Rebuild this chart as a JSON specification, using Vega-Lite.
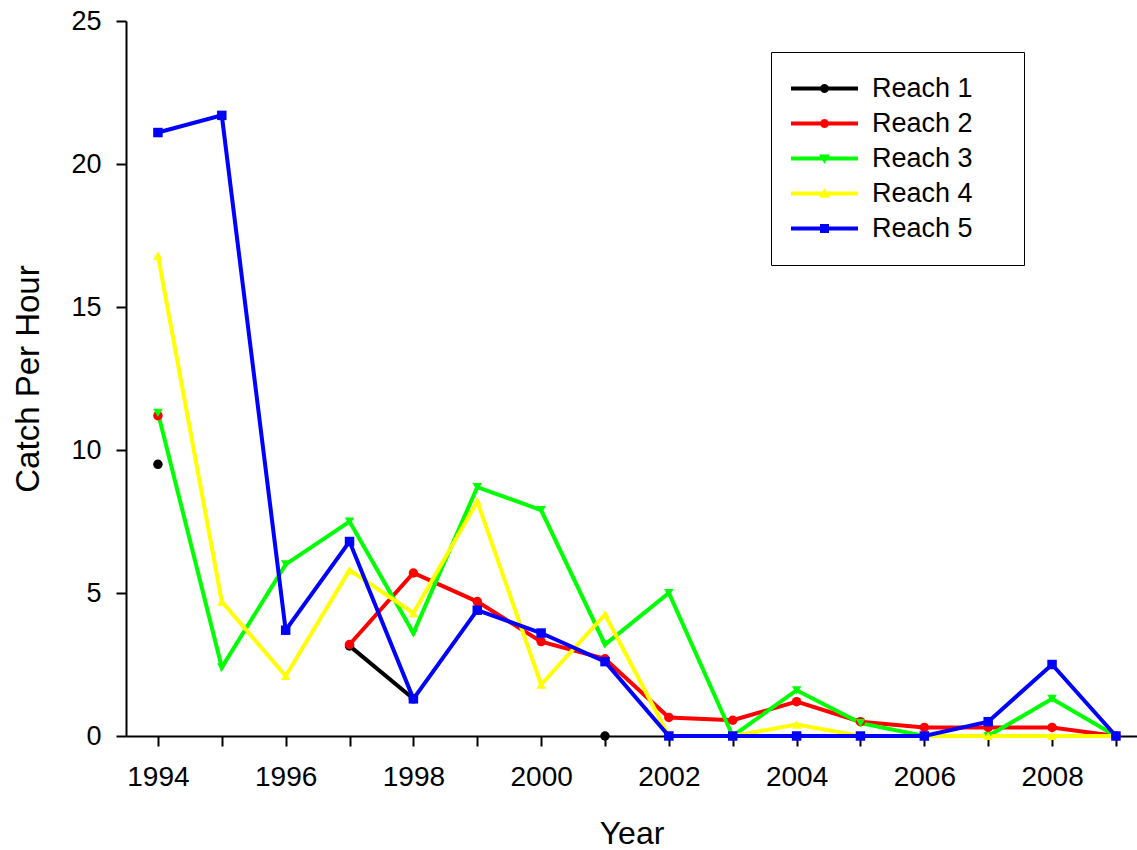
{
  "$schema": "https://vega.github.io/schema/vega-lite/v6.json",
  "width": 1011,
  "height": 715,
  "autosize": "none",
  "padding": {"left": 126, "top": 21, "right": 0, "bottom": 114},
  "background": "white",
  "config": {
    "view": {"stroke": null},
    "font": "Liberation Sans",
    "axis": {
      "domainColor": "black", "domainWidth": 2, "tickColor": "black", "tickWidth": 2, "tickSize": 10,
      "labelColor": "black", "titleColor": "black", "labelFont": "Liberation Sans", "titleFont": "Liberation Sans",
      "labelFontSize": 28, "titleFontSize": 32, "titleFontWeight": "normal", "grid": false
    }
  },
  "data": {"values": [
    {"Year": 1994, "Reach": "Reach 1", "CPH": 9.5},
    {"Year": 1995, "Reach": "Reach 1", "CPH": null},
    {"Year": 1996, "Reach": "Reach 1", "CPH": null},
    {"Year": 1997, "Reach": "Reach 1", "CPH": 3.15},
    {"Year": 1998, "Reach": "Reach 1", "CPH": 1.3},
    {"Year": 1999, "Reach": "Reach 1", "CPH": null},
    {"Year": 2000, "Reach": "Reach 1", "CPH": null},
    {"Year": 2001, "Reach": "Reach 1", "CPH": 0},
    {"Year": 1994, "Reach": "Reach 2", "CPH": 11.2},
    {"Year": 1995, "Reach": "Reach 2", "CPH": null},
    {"Year": 1996, "Reach": "Reach 2", "CPH": null},
    {"Year": 1997, "Reach": "Reach 2", "CPH": 3.2},
    {"Year": 1998, "Reach": "Reach 2", "CPH": 5.7},
    {"Year": 1999, "Reach": "Reach 2", "CPH": 4.7},
    {"Year": 2000, "Reach": "Reach 2", "CPH": 3.3},
    {"Year": 2001, "Reach": "Reach 2", "CPH": 2.7},
    {"Year": 2002, "Reach": "Reach 2", "CPH": 0.65},
    {"Year": 2003, "Reach": "Reach 2", "CPH": 0.55},
    {"Year": 2004, "Reach": "Reach 2", "CPH": 1.2},
    {"Year": 2005, "Reach": "Reach 2", "CPH": 0.5},
    {"Year": 2006, "Reach": "Reach 2", "CPH": 0.3},
    {"Year": 2007, "Reach": "Reach 2", "CPH": 0.3},
    {"Year": 2008, "Reach": "Reach 2", "CPH": 0.3},
    {"Year": 2009, "Reach": "Reach 2", "CPH": 0},
    {"Year": 1994, "Reach": "Reach 3", "CPH": 11.3},
    {"Year": 1995, "Reach": "Reach 3", "CPH": 2.4},
    {"Year": 1996, "Reach": "Reach 3", "CPH": 6.0},
    {"Year": 1997, "Reach": "Reach 3", "CPH": 7.5},
    {"Year": 1998, "Reach": "Reach 3", "CPH": 3.6},
    {"Year": 1999, "Reach": "Reach 3", "CPH": 8.7},
    {"Year": 2000, "Reach": "Reach 3", "CPH": 7.9},
    {"Year": 2001, "Reach": "Reach 3", "CPH": 3.2},
    {"Year": 2002, "Reach": "Reach 3", "CPH": 5.0},
    {"Year": 2003, "Reach": "Reach 3", "CPH": 0},
    {"Year": 2004, "Reach": "Reach 3", "CPH": 1.6},
    {"Year": 2005, "Reach": "Reach 3", "CPH": 0.45},
    {"Year": 2006, "Reach": "Reach 3", "CPH": 0},
    {"Year": 2007, "Reach": "Reach 3", "CPH": 0},
    {"Year": 2008, "Reach": "Reach 3", "CPH": 1.3},
    {"Year": 2009, "Reach": "Reach 3", "CPH": 0},
    {"Year": 1994, "Reach": "Reach 4", "CPH": 16.8},
    {"Year": 1995, "Reach": "Reach 4", "CPH": 4.7},
    {"Year": 1996, "Reach": "Reach 4", "CPH": 2.1},
    {"Year": 1997, "Reach": "Reach 4", "CPH": 5.8},
    {"Year": 1998, "Reach": "Reach 4", "CPH": 4.3},
    {"Year": 1999, "Reach": "Reach 4", "CPH": 8.2},
    {"Year": 2000, "Reach": "Reach 4", "CPH": 1.8},
    {"Year": 2001, "Reach": "Reach 4", "CPH": 4.25},
    {"Year": 2002, "Reach": "Reach 4", "CPH": 0},
    {"Year": 2003, "Reach": "Reach 4", "CPH": 0},
    {"Year": 2004, "Reach": "Reach 4", "CPH": 0.4},
    {"Year": 2005, "Reach": "Reach 4", "CPH": 0},
    {"Year": 2006, "Reach": "Reach 4", "CPH": 0},
    {"Year": 2007, "Reach": "Reach 4", "CPH": 0},
    {"Year": 2008, "Reach": "Reach 4", "CPH": 0},
    {"Year": 2009, "Reach": "Reach 4", "CPH": 0},
    {"Year": 1994, "Reach": "Reach 5", "CPH": 21.1},
    {"Year": 1995, "Reach": "Reach 5", "CPH": 21.7},
    {"Year": 1996, "Reach": "Reach 5", "CPH": 3.7},
    {"Year": 1997, "Reach": "Reach 5", "CPH": 6.8},
    {"Year": 1998, "Reach": "Reach 5", "CPH": 1.3},
    {"Year": 1999, "Reach": "Reach 5", "CPH": 4.4},
    {"Year": 2000, "Reach": "Reach 5", "CPH": 3.6},
    {"Year": 2001, "Reach": "Reach 5", "CPH": 2.6},
    {"Year": 2002, "Reach": "Reach 5", "CPH": 0},
    {"Year": 2003, "Reach": "Reach 5", "CPH": 0},
    {"Year": 2004, "Reach": "Reach 5", "CPH": 0},
    {"Year": 2005, "Reach": "Reach 5", "CPH": 0},
    {"Year": 2006, "Reach": "Reach 5", "CPH": 0},
    {"Year": 2007, "Reach": "Reach 5", "CPH": 0.5},
    {"Year": 2008, "Reach": "Reach 5", "CPH": 2.5},
    {"Year": 2009, "Reach": "Reach 5", "CPH": 0}
  ]},
  "encoding": {
    "x": {
      "field": "Year", "type": "quantitative",
      "scale": {"domain": [1993.5, 2009.33], "nice": false, "zero": false},
      "axis": {
        "title": "Year", "values": [1994,1995,1996,1997,1998,1999,2000,2001,2002,2003,2004,2005,2006,2007,2008,2009],
        "format": "d", "labelExpr": "datum.value % 2 == 0 ? datum.label : ''",
        "labelPadding": 17, "labelFlush": false, "labelOverlap": false,
        "titleY": 107, "titleBaseline": "alphabetic"
      }
    },
    "y": {
      "field": "CPH", "type": "quantitative",
      "scale": {"domain": [0, 25], "nice": false},
      "axis": {
        "title": "Catch Per Hour", "values": [0,5,10,15,20,25], "titleFontSize": 33,
        "labelPadding": 15, "labelFontSize": 27, "titleX": -88, "titleBaseline": "alphabetic"
      }
    },
    "color": {
      "field": "Reach", "type": "nominal",
      "scale": {"domain": ["Reach 1","Reach 2","Reach 3","Reach 4","Reach 5"], "range": ["#000000","#ff0000","#00ff00","#ffff00","#0000ff"]}
    }
  },
  "layer": [
    {
      "transform": [{"filter": "false"}],
      "mark": {"type": "point", "filled": true, "opacity": 1},
      "encoding": {
        "color": {
          "field": "Reach", "type": "nominal",
          "legend": {
            "title": null, "orient": "none", "legendX": 645, "legendY": 31,
            "padding": 20, "strokeColor": "black", "rowPadding": 2, "clipHeight": 33,
            "labelFontSize": 27, "labelFont": "Liberation Sans", "labelColor": "black",
            "symbolSize": 4489, "symbolStrokeWidth": 0, "labelOffset": 14,
            "labelExpr": "datum.label + '\u2009\u2009\u2800'"
          }
        },
        "shape": {
          "field": "Reach", "type": "nominal",
          "scale": {
            "domain": ["Reach 1","Reach 2","Reach 3","Reach 4","Reach 5"],
            "range": [
              "M-1,-0.06H1V0.06H-1ZM0.134,0L0.116,0.067L0.067,0.116L0,0.134L-0.067,0.116L-0.116,0.067L-0.134,0L-0.116,-0.067L-0.067,-0.116L0,-0.134L0.067,-0.116L0.116,-0.067Z",
              "M-1,-0.06H1V0.06H-1ZM0.134,0L0.116,0.067L0.067,0.116L0,0.134L-0.067,0.116L-0.116,0.067L-0.134,0L-0.116,-0.067L-0.067,-0.116L0,-0.134L0.067,-0.116L0.116,-0.067Z",
              "M-1,-0.06H1V0.06H-1ZM-0.164,-0.12L0.164,-0.12L0,0.16Z",
              "M-1,-0.06H1V0.06H-1ZM0.164,0.12L-0.164,0.12L0,-0.16Z",
              "M-1,-0.06H1V0.06H-1ZM-0.134,-0.134H0.134V0.134H-0.134Z"
            ]
          },
          "legend": {
            "title": null, "orient": "none", "legendX": 645, "legendY": 31,
            "padding": 20, "strokeColor": "black", "rowPadding": 2, "clipHeight": 33,
            "labelFontSize": 27, "labelFont": "Liberation Sans", "labelColor": "black",
            "symbolSize": 4489, "symbolStrokeWidth": 0, "labelOffset": 14,
            "labelExpr": "datum.label + '\u2009\u2009\u2800'"
          }
        }
      }
    },
    {
      "mark": {"type": "line", "strokeWidth": 4, "invalid": "break-paths-show-domains"}
    },
    {
      "transform": [{"filter": {"field": "Reach", "oneOf": ["Reach 1", "Reach 2"]}}],
      "mark": {"type": "point", "shape": "circle", "filled": true, "opacity": 1, "size": 90}
    },
    {
      "transform": [{"filter": {"field": "Reach", "equal": "Reach 3"}}],
      "mark": {"type": "point", "shape": "triangle-down", "filled": true, "opacity": 1, "size": 90}
    },
    {
      "transform": [{"filter": {"field": "Reach", "equal": "Reach 4"}}],
      "mark": {"type": "point", "shape": "triangle-up", "filled": true, "opacity": 1, "size": 90}
    },
    {
      "transform": [{"filter": {"field": "Reach", "equal": "Reach 5"}}],
      "mark": {"type": "point", "shape": "square", "filled": true, "opacity": 1, "size": 90}
    }
  ]
}
